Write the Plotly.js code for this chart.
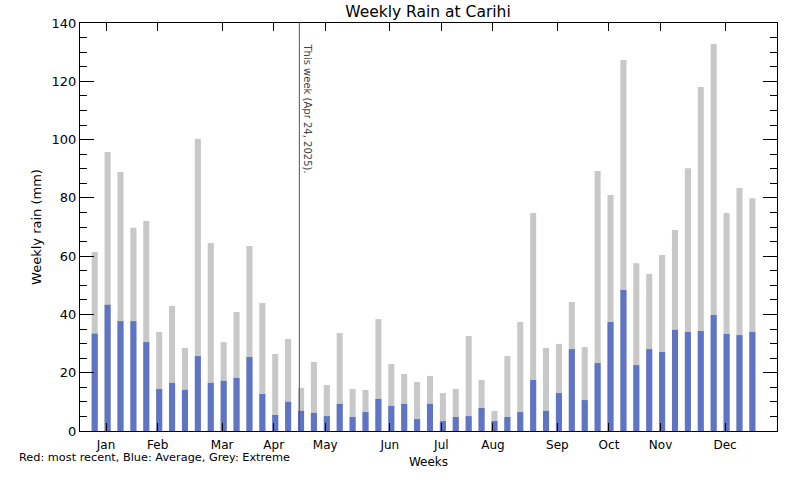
<!DOCTYPE html>
<html>
<head>
<meta charset="utf-8">
<script src="https://cdn.plot.ly/plotly-3.0.1.min.js"></script>
<style>html,body{margin:0;padding:0;background:#fff;}#chart{width:800px;height:480px;}</style>
</head>
<body>
<div id="chart"></div>
<script>
// Week index 1..52
var weeks = [];
for (var i = 1; i <= 52; i++) weeks.push(i);

// Extreme (grey) weekly rain, mm
var extremeRain = [61.4, 95.7, 88.9, 69.7, 72.1, 34.0, 42.9, 28.5, 100.2, 64.5,
  30.5, 40.8, 63.5, 43.9, 26.4, 31.6, 14.8, 23.7, 15.8, 33.6,
  14.4, 14.1, 38.4, 23.0, 19.6, 16.8, 18.9, 13.0, 14.4, 32.6,
  17.5, 6.9, 25.7, 37.4, 74.8, 28.5, 29.9, 44.3, 28.8, 89.2,
  81.0, 127.3, 57.6, 53.9, 60.4, 69.0, 90.2, 118.0, 132.8, 74.8,
  83.4, 79.9];

// Average (blue) weekly rain, mm
var averageRain = [33.4, 43.3, 37.7, 37.7, 30.5, 14.4, 16.5, 14.1, 25.7, 16.5,
  17.2, 18.2, 25.4, 12.7, 5.5, 10.0, 6.9, 6.2, 5.1, 9.3,
  4.8, 6.5, 11.0, 8.6, 9.3, 4.1, 9.3, 3.4, 4.8, 5.1,
  7.9, 3.4, 4.8, 6.5, 17.5, 6.9, 13.0, 28.1, 10.6, 23.3,
  37.4, 48.4, 22.6, 28.1, 27.1, 34.7, 34.0, 34.3, 39.8, 33.3,
  32.9, 34.0];

// Month tick positions (in week-index units) and labels
var monthTicks = [1.88, 5.88, 10.88, 14.88, 18.88, 23.88, 27.88, 31.88, 36.88, 40.88, 44.88, 49.88];
var monthLabels = ["Jan", "Feb", "Mar", "Apr", "May", "Jun", "Jul", "Aug", "Sep", "Oct", "Nov", "Dec"];

// Current week marker
var thisWeekPos = 16.87;
var thisWeekLabel = "This week (Apr 24, 2025).";

var FONT = "DejaVu Sans, sans-serif";

var traces = [
  {type: "bar", x: weeks, y: extremeRain, width: 0.47, marker: {color: "#c8c8c8", line: {width: 0}}, name: "Extreme", hoverinfo: "y"},
  {type: "bar", x: weeks, y: averageRain, width: 0.47, marker: {color: "#5f74c5", line: {width: 0}}, name: "Average", hoverinfo: "y"}
];

var layout = {
  width: 800, height: 480,
  margin: {l: 80, r: 23, t: 23, b: 49},
  paper_bgcolor: "#fff", plot_bgcolor: "#fff",
  barmode: "overlay",
  showlegend: false,
  font: {family: FONT, size: 13, color: "#000"},
  title: {text: "Weekly Rain at Carihi", x: 0.535, xanchor: "center", y: 0.975, yanchor: "middle", font: {family: FONT, size: 15.5, color: "#000"}},
  xaxis: {
    range: [-0.14, 53.91], tickmode: "array", tickvals: monthTicks, ticktext: monthLabels,
    ticks: "inside", ticklen: 8, tickcolor: "#000", tickwidth: 1, ticklabelstandoff: 3,
    showline: true, linecolor: "#000", linewidth: 1, mirror: "ticks",
    showgrid: false, zeroline: false, tickfont: {family: FONT, size: 12},
    title: {text: "Weeks", font: {family: FONT, size: 12}, standoff: 6}
  },
  yaxis: {
    range: [0, 140], dtick: 20, tick0: 0,
    ticks: "inside", ticklen: 14, tickcolor: "#000", tickwidth: 1,
    minor: {dtick: 5, ticks: "inside", ticklen: 7, tickcolor: "#000", tickwidth: 1, showgrid: false},
    showline: true, linecolor: "#000", linewidth: 1, mirror: "ticks",
    showgrid: false, zeroline: false, tickfont: {family: FONT, size: 13},
    title: {text: "Weekly rain (mm)", font: {family: FONT, size: 13}, standoff: 7}
  },
  shapes: [
    {type: "line", xref: "x", yref: "paper", x0: thisWeekPos, x1: thisWeekPos, y0: 0, y1: 1, line: {color: "#555", width: 1}}
  ],
  annotations: [
    {xref: "x", yref: "paper", x: thisWeekPos, y: 0.955, xanchor: "left", yanchor: "top", xshift: 1,
     text: thisWeekLabel, textangle: 90, showarrow: false, font: {family: FONT, size: 10, color: "#444"}},
    {xref: "paper", yref: "paper", x: -0.09, y: -0.065, xanchor: "left", yanchor: "middle",
     text: "Red: most recent, Blue: Average, Grey: Extreme", showarrow: false, font: {family: FONT, size: 11.3, color: "#000"}}
  ]
};

Plotly.newPlot("chart", traces, layout, {staticPlot: true, displayModeBar: false});
</script>
</body>
</html>
